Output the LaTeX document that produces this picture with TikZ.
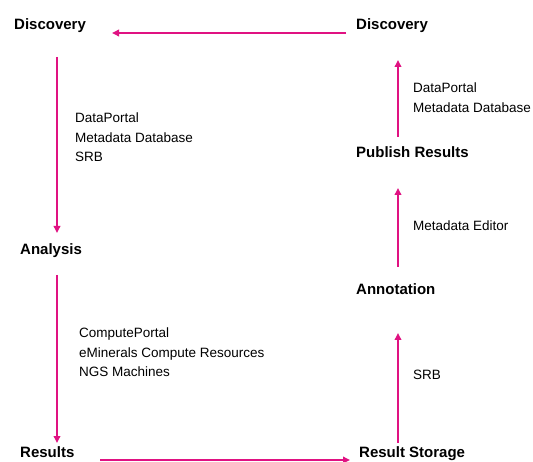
\documentclass[tikz,border=0pt]{standalone}
\usepackage{fontspec}
\setmainfont{Liberation Sans}
\usetikzlibrary{arrows.meta}
\definecolor{flowpink}{RGB}{224,18,130}
\begin{document}
\begin{tikzpicture}[x=1pt,y=-1pt,
  stage/.style={anchor=base west,inner sep=0pt,font=\fontsize{15}{18}\selectfont\bfseries},
  tool/.style={anchor=north west,inner sep=0pt,align=left,font=\fontsize{13.5}{19.5}\selectfont},
  flow/.style={draw=flowpink,line width=2pt,-{Triangle[length=7pt,width=6.5pt]}}]
\useasboundingbox[fill=white] (0,0) rectangle (533,462);
% stages
\node[stage] (disc1) at (14,30) {Discovery};
\node[stage] (disc2) at (356,30) {Discovery};
\node[stage] (anal) at (20,255) {Analysis};
\node[stage] (res) at (20,457) {Results};
\node[stage] (store) at (359,457) {Result Storage};
\node[stage] (annot) at (356,295) {Annotation};
\node[stage] (pub) at (356,158) {Publish Results};
% tool labels
\node[tool] (t1) at (75,113) {DataPortal\\Metadata Database\\SRB};
\node[tool] (t2) at (79,328) {ComputePortal\\eMinerals Compute Resources\\NGS Machines};
\node[tool] (t3) at (413,221) {Metadata Editor};
\node[tool] (t4) at (413,83) {DataPortal\\Metadata Database};
\node[tool] (t5) at (413,370) {SRB};
% connector end points
\coordinate (c1a) at (346,33);  \coordinate (c1b) at (112,33);
\coordinate (c2a) at (57,57);   \coordinate (c2b) at (57,233);
\coordinate (c3a) at (57,275);  \coordinate (c3b) at (57,443);
\coordinate (c4a) at (100,460); \coordinate (c4b) at (350,460);
\coordinate (c5a) at (398,443); \coordinate (c5b) at (398,333);
\coordinate (c6a) at (398,267); \coordinate (c6b) at (398,188);
\coordinate (c7a) at (398,137); \coordinate (c7b) at (398,60);
\draw[flow] (c1a) -- (c1b);
\draw[flow] (c2a) -- (c2b);
\draw[flow] (c3a) -- (c3b);
\draw[flow] (c4a) -- (c4b);
\draw[flow] (c5a) -- (c5b);
\draw[flow] (c6a) -- (c6b);
\draw[flow] (c7a) -- (c7b);
\end{tikzpicture}
\end{document}
